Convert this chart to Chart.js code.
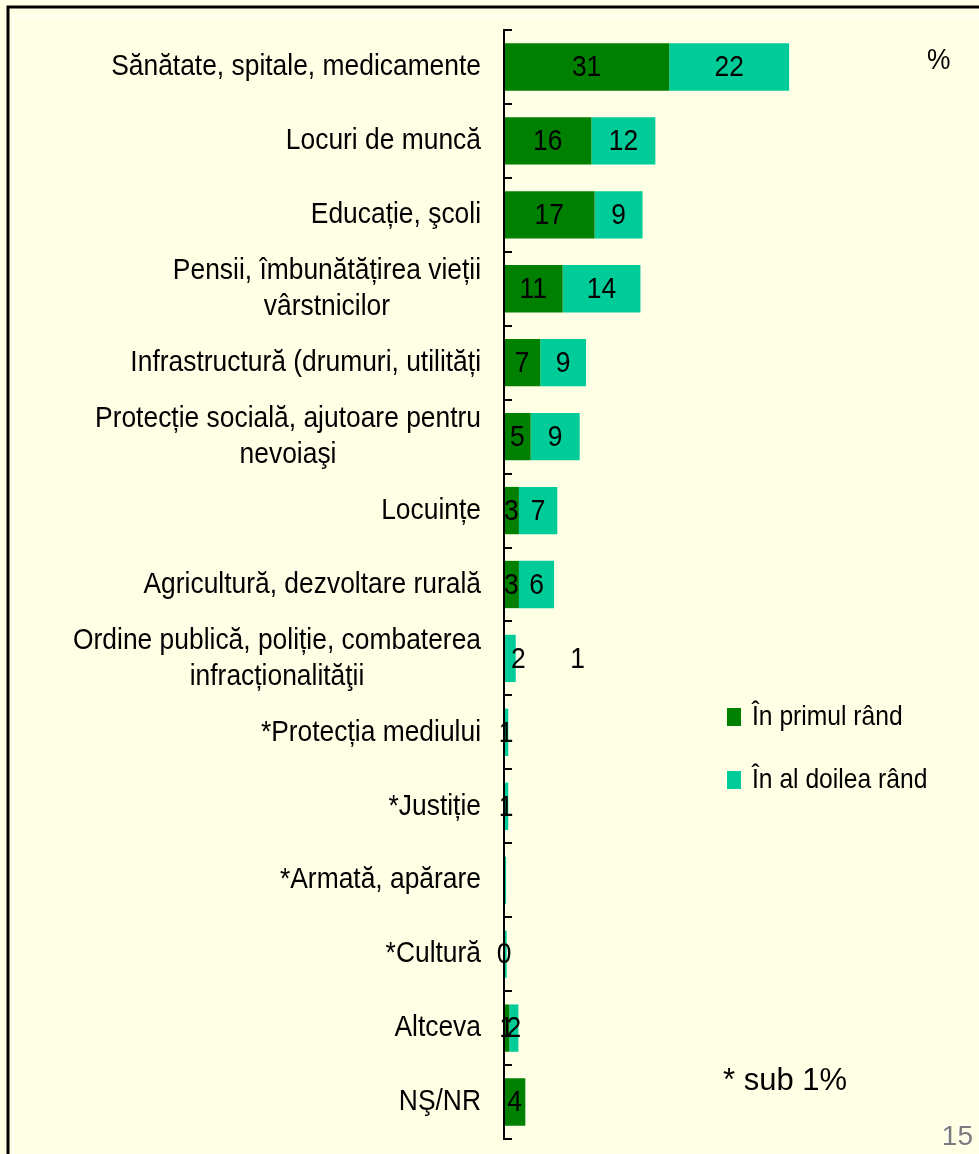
<!DOCTYPE html>
<html>
<head>
<meta charset="utf-8">
<script src="https://cdn.jsdelivr.net/npm/chart.js@4/dist/chart.umd.min.js"></script>
<style>
    html, body { margin: 0; padding: 0; background: #FFFFE6; }
    #wrap { width: 979px; height: 1154px; position: relative; }
</style>
</head>
<body>
<div id="wrap"><canvas id="chart" width="979" height="1154"></canvas></div>
<script>
// categorii (randurile graficului), cele lungi pe doua linii
const categories = [
    ['Sănătate, spitale, medicamente'],
    ['Locuri de muncă'],
    ['Educație, şcoli'],
    ['Pensii, îmbunătățirea vieții', 'vârstnicilor'],
    ['Infrastructură (drumuri, utilități'],
    ['Protecție socială, ajutoare pentru', 'nevoiaşi'],
    ['Locuințe'],
    ['Agricultură, dezvoltare rurală'],
    ['Ordine publică, poliție, combaterea', 'infracționalităţii'],
    ['*Protecția mediului'],
    ['*Justiție'],
    ['*Armată, apărare'],
    ['*Cultură'],
    ['Altceva'],
    ['NŞ/NR']
];

const seriesNames = ['În primul rând', 'În al doilea rând'];

const primulRand = [31, 16.4, 17, 11, 6.8, 5, 2.8, 2.8, 0.2, 0, 0, 0, 0, 1, 4];
const alDoileaRand = [22.5, 12, 9, 14.6, 8.6, 9.2, 7.2, 6.6, 2, 0.8, 0.8, 0.4, 0.5, 1.7, 0];

// etichetele afisate pe bare (asa cum apar in imagine)
const primulLabels = ['31', '16', '17', '11', '7', '5', '3', '3', '1', '', '', '', '0', '1', '4'];
const alDoileaLabels = ['22', '12', '9', '14', '9', '9', '7', '6', '2', '1', '1', '', '', '2', ''];

const colors = ['#008000', '#00CC99'];
const FONT = '"Liberation Sans", Arial, sans-serif';
const SQUEEZE = 0.88; // textul din original e putin ingustat

// scrie text ingustat pe orizontala
function narrowText(ctx, txt, x, y, align) {
    ctx.save();
    ctx.translate(x, y);
    ctx.scale(SQUEEZE, 1);
    ctx.textAlign = align;
    ctx.fillText(txt, 0, 0);
    ctx.restore();
}

const drawExtras = {
    id: 'drawExtras',
    beforeDraw(chart) {
        const ctx = chart.ctx;
        ctx.save();
        ctx.fillStyle = '#FFFFE6';
        ctx.fillRect(0, 0, chart.width, chart.height);
        // chenarul
        ctx.strokeStyle = '#FFFFF4';
        ctx.lineWidth = 2;
        ctx.strokeRect(13, 16, 1000, 1200);
        ctx.strokeStyle = '#000';
        ctx.lineWidth = 3;
        ctx.beginPath();
        ctx.moveTo(8, 1154);
        ctx.lineTo(8, 7);
        ctx.lineTo(979, 7);
        ctx.stroke();
        ctx.restore();
    },
    afterDatasetsDraw(chart) {
        const ctx = chart.ctx;
        const x = chart.scales.x;
        const y = chart.scales.y;
        ctx.save();

        // axa verticala + liniute spre dreapta intre categorii
        ctx.strokeStyle = '#000';
        ctx.lineWidth = 2;
        ctx.beginPath();
        ctx.moveTo(x.left, y.top);
        ctx.lineTo(x.left, y.bottom);
        const step = (y.bottom - y.top) / categories.length;
        for (let i = 0; i <= categories.length; i++) {
            const ty = Math.round(y.getPixelForValue(i) - step / 2);
            ctx.moveTo(x.left - 1, ty);
            ctx.lineTo(x.left + 8, ty);
        }
        ctx.stroke();

        // denumirile categoriilor
        ctx.fillStyle = '#000';
        ctx.font = '30px ' + FONT;
        ctx.textBaseline = 'middle';
        const right = x.left - 23;
        categories.forEach((lines, i) => {
            const cy = y.getPixelForValue(i);
            const maxW = Math.max(...lines.map(l => ctx.measureText(l).width)) * SQUEEZE;
            const cx = right - maxW / 2;
            lines.forEach((l, j) => {
                narrowText(ctx, l, cx, cy + (j - (lines.length - 1) / 2) * 36, 'center');
            });
        });

        // valorile pe bare
        const labelSets = [primulLabels, alDoileaLabels];
        const nudge = { '0-8': 73, '1-8': 8 };
        chart.data.datasets.forEach((ds, d) => {
            const meta = chart.getDatasetMeta(d);
            meta.data.forEach((bar, i) => {
                const txt = labelSets[d][i];
                if (!txt) return;
                const cx = (bar.x + bar.base) / 2 + (nudge[d + '-' + i] || 0);
                narrowText(ctx, txt, cx, bar.y + 1, 'center');
            });
        });

        // legenda
        ctx.font = '28px ' + FONT;
        const legendY = [717, 780];
        chart.data.datasets.forEach((ds, d) => {
            ctx.fillStyle = ds.backgroundColor;
            ctx.fillRect(727, legendY[d] - 9, 14, 18);
            ctx.fillStyle = '#000';
            narrowText(ctx, ds.label, 752, legendY[d], 'left');
        });

        ctx.font = '30px ' + FONT;
        narrowText(ctx, '%', 927, 61, 'left');
        ctx.font = '31px ' + FONT;
        ctx.textAlign = 'left';
        ctx.fillText('* sub 1%', 723, 1081);

        // numarul paginii
        ctx.font = '28px ' + FONT;
        ctx.textAlign = 'right';
        ctx.fillStyle = '#FFFFFF';
        ctx.fillText('15', 972, 1136);
        ctx.fillStyle = '#7A7A7A';
        ctx.fillText('15', 973, 1137);
        ctx.restore();
    }
};

new Chart(document.querySelector('#chart'), {
    type: 'bar',
    data: {
        labels: categories,
        datasets: [
            { label: seriesNames[0], data: primulRand, backgroundColor: colors[0] },
            { label: seriesNames[1], data: alDoileaRand, backgroundColor: colors[1] }
        ]
    },
    options: {
        indexAxis: 'y',
        responsive: false,
        animation: false,
        barPercentage: 0.64,
        categoryPercentage: 1,
        layout: { padding: { left: 504, top: 30, bottom: 15, right: 6 } },
        plugins: {
            legend: { display: false },
            tooltip: { enabled: false }
        },
        scales: {
            x: { stacked: true, min: 0, max: 88, display: false },
            y: { stacked: true, display: false }
        }
    },
    plugins: [drawExtras]
});
</script>
</body>
</html>
